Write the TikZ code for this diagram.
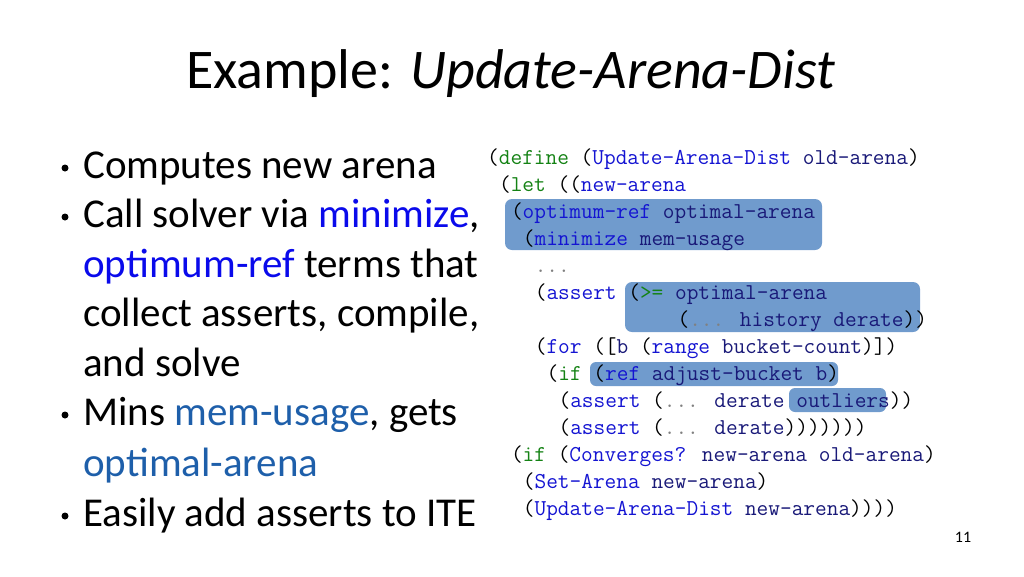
\documentclass[tikz,border=0pt]{standalone}
\usepackage{fontspec}
\setmainfont{Carlito}
\usetikzlibrary{positioning}
\definecolor{kwg}{RGB}{20,130,20}
\definecolor{fnb}{RGB}{20,20,210}
\definecolor{vrn}{RGB}{25,25,120}
\definecolor{hil}{RGB}{112,155,205}
\definecolor{tealb}{RGB}{30,95,170}
\definecolor{pureb}{RGB}{10,10,235}
\newcommand\Kg[1]{\textcolor{kwg}{#1}}
\newcommand\Fb[1]{\textcolor{fnb}{#1}}
\newcommand\Vn[1]{\textcolor{vrn}{#1}}
\newcommand\Dt{\textcolor{gray}{...}}
\begin{document}
\begin{tikzpicture}[x=1pt,y=-1pt,
  codeline/.style={anchor=base west,inner sep=0pt,font=\fontsize{22.7}{27}\selectfont\ttfamily},
  bul/.style={anchor=base west,inner sep=0pt,font=\fontsize{41}{46}\selectfont},
  bulletdot/.style={circle,fill=black,draw=none,inner sep=0pt,minimum size=7pt}]
\useasboundingbox (0,0) rectangle (1024,576);
\node[anchor=base west,inner sep=0pt,font=\fontsize{56}{60}\selectfont] (title) at (186,88) {Example: \textit{Update-Arena-Dist}};
% highlights
\fill[hil,rounded corners=7pt] (505,199) rectangle (822,250);
\fill[hil,rounded corners=7pt] (625,282) rectangle (920,332);
\fill[hil,rounded corners=6pt] (590,362) rectangle (838,386);
\fill[hil,rounded corners=6pt] (789,388) rectangle (886,412);
% code
\def\cw{11.9}
\node[codeline] (c1) at (487,164) {(\Kg{define} (\Fb{Update-Arena-Dist} \Vn{old-arena})};
\node[codeline] (c2) at (487+\cw,191) {(\Kg{let} ((\Fb{new-arena}};
\node[codeline] (c3) at (487+2*\cw,218) {(\Fb{optimum-ref} \Vn{optimal-arena}};
\node[codeline] (c4) at (487+3*\cw,245) {(\Fb{minimize} \Vn{mem-usage}};
\node[codeline] (c5) at (487+4*\cw,272) {\Dt};
\node[codeline] (c6) at (487+4*\cw,299) {(\Fb{assert} (\Kg{>=} \Vn{optimal-arena}};
\node[codeline] (c7) at (487+16*\cw,326) {(\Dt{} \Vn{history} \Vn{derate}))};
\node[codeline] (c8) at (487+4*\cw,353) {(\Fb{for} ([\Vn{b} (\Fb{range} \Vn{bucket-count})])};
\node[codeline] (c9) at (487+5*\cw,380) {(\Kg{if} (\Fb{ref} \Vn{adjust-bucket} \Vn{b})};
\node[codeline] (c10) at (487+6*\cw,407) {(\Fb{assert} (\Dt{} \Vn{derate} \Vn{outliers}))};
\node[codeline] (c11) at (487+6*\cw,434) {(\Fb{assert} (\Dt{} \Vn{derate})))))))};
\node[codeline] (c12) at (487+2*\cw,461) {(\Kg{if} (\Fb{Converges?} \Vn{new-arena} \Vn{old-arena})};
\node[codeline] (c13) at (487+3*\cw,488) {(\Fb{Set-Arena} \Vn{new-arena})};
\node[codeline] (c14) at (487+3*\cw,515) {(\Fb{Update-Arena-Dist} \Vn{new-arena}))))};
% bullets
\node[bulletdot] (d1) at (65,168) {};
\node[bul] (b1) at (83,178) {Computes new arena};
\node[bulletdot] (d2) at (65,217) {};
\node[bul] (b2) at (83,227) {Call solver via \textcolor{pureb}{minimize},};
\node[bul] (b3) at (83,277) {\textcolor{pureb}{optimum-ref} terms that};
\node[bul] (b4) at (83,326) {collect asserts, compile,};
\node[bul] (b5) at (83,376) {and solve};
\node[bulletdot] (d3) at (65,415) {};
\node[bul] (b6) at (83,425) {Mins \textcolor{tealb}{mem-usage}, gets};
\node[bul] (b7) at (83,476) {\textcolor{tealb}{optimal-arena}};
\node[bulletdot] (d4) at (65,516) {};
\node[bul] (b8) at (83,526) {Easily add asserts to ITE};
\node[anchor=base,inner sep=0pt,font=\fontsize{16}{18}\selectfont] (pg) at (963,542) {11};
\end{tikzpicture}
\end{document}
